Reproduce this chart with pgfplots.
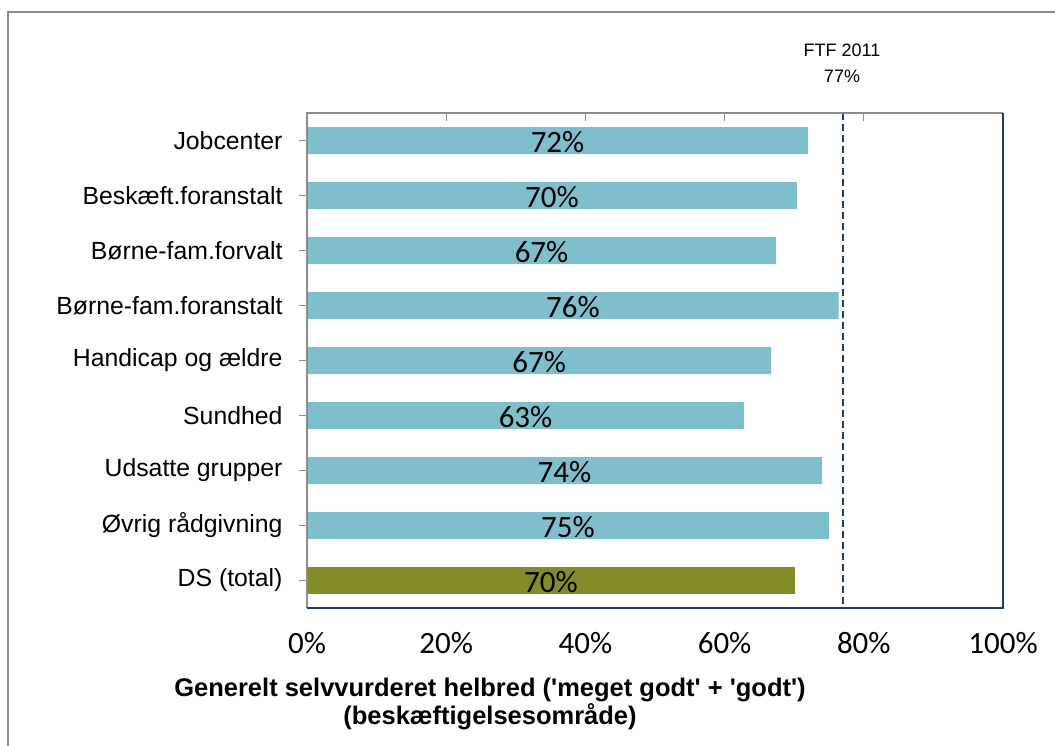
\documentclass[border=0pt]{standalone}
\usepackage{pgfplots}
\pgfplotsset{compat=1.18}
\usepackage{fontspec}
\setmainfont{Liberation Sans}
\newfontfamily\calibri{Carlito}
\definecolor{barblue}{HTML}{7FBFCD}
\definecolor{olivebar}{HTML}{838C27}
\definecolor{navy}{HTML}{1F3A6E}
\definecolor{framegray}{HTML}{8C8C8C}
\begin{document}
\begin{tikzpicture}[x=1pt,y=1pt]
\useasboundingbox (0,0) rectangle (1055,746);
\draw[framegray, line width=2pt] (8,0) -- (8,734) -- (1055,734);
\begin{axis}[
  at={(307pt,138pt)}, anchor=south west,
  width=696pt, height=495pt, scale only axis,
  xmin=0, xmax=100, ymin=-0.5, ymax=8.5, y dir=reverse,
  axis line style={draw=none},
  ytick={0,...,8},
  yticklabels={Jobcenter,Beskæft.foranstalt,Børne-fam.forvalt,Børne-fam.foranstalt,Handicap og ældre,Sundhed,Udsatte grupper,Øvrig rådgivning,DS (total)},
  xtick={0,20,...,100},
  xticklabel={\pgfmathprintnumber{\tick}\%},
  xtick pos=upper, xticklabel pos=lower,
  ytick pos=left,
  xtick align=inside, ytick align=outside,
  major tick length=8pt,
  tick style={framegray, line width=1.2pt},
  yticklabel style={font=\fontsize{24.8}{29}\selectfont, xshift=-13pt},
  xticklabel style={font=\calibri\fontsize{31}{34}\selectfont, /pgf/number format/assume math mode=true, yshift=-21pt},
  clip=false,
]
\addplot[xbar, fill=barblue, draw=none, bar width=27pt, bar shift=0pt,
  nodes near coords={\pgfmathprintnumber[fixed,precision=0]{\pgfplotspointmeta}\%},
  visualization depends on={x \as \rawx},
  every node near coord/.append style={anchor=center, black, font=\calibri\fontsize{31}{32}\selectfont, /pgf/number format/assume math mode=true, shift={(axis direction cs:-\rawx/2,0)}, yshift=-2pt}]
  coordinates {(72.0,0) (70.4,1) (67.4,2) (76.4,3) (66.7,4) (62.8,5) (74.0,6) (75.0,7)};
\addplot[xbar, fill=olivebar, draw=none, bar width=27pt, bar shift=0pt,
  nodes near coords={\pgfmathprintnumber[fixed,precision=0]{\pgfplotspointmeta}\%},
  visualization depends on={x \as \rawx},
  every node near coord/.append style={anchor=center, black, font=\calibri\fontsize{31}{32}\selectfont, /pgf/number format/assume math mode=true, shift={(axis direction cs:-\rawx/2,0)}, yshift=-2pt}]
  coordinates {(70.1,8)};
\addplot[sharp plot, navy, line width=2.2pt, dash pattern=on 7pt off 4pt, mark=none] coordinates {(77,-0.5) (77,8.5)};
\draw[framegray, line width=1.5pt] (axis cs:0,8.5) -- (axis cs:0,-0.5) -- (axis cs:100,-0.5);
\draw[navy, line width=1.5pt] (axis cs:0,8.5) -- (axis cs:100,8.5) -- (axis cs:100,-0.5);
\end{axis}
\node[align=center, font=\fontsize{18}{26}\selectfont] at (842,683) {FTF 2011\\77\%};
\node[align=center, font=\bfseries\fontsize{25.5}{28}\selectfont] at (490,42) {Generelt selvvurderet helbred (\textquotesingle meget godt\textquotesingle{} + \textquotesingle godt\textquotesingle)\\(beskæftigelsesområde)};
\end{tikzpicture}
\end{document}
